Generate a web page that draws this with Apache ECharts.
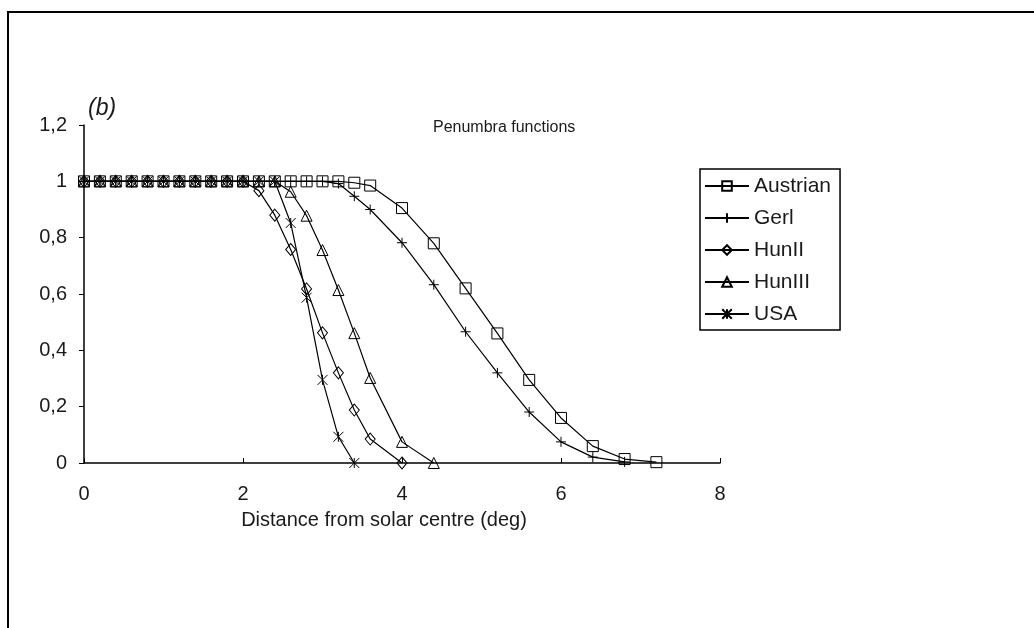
<!DOCTYPE html>
<html>
<head>
<meta charset="utf-8">
<script src="https://cdn.jsdelivr.net/npm/echarts@6/dist/echarts.min.js"></script>
<style>
  html, body { margin: 0; padding: 0; background: #fff; }
  #chart { width: 1034px; height: 628px; }
</style>
</head>
<body>
<div id="chart"></div>
<script>
// x positions (deg) shared by all curves
const distances = [0, 0.2, 0.4, 0.6, 0.8, 1.0, 1.2, 1.4, 1.6, 1.8, 2.0, 2.2, 2.4, 2.6, 2.8, 3.0, 3.2, 3.4, 3.6,
    4.0, 4.4, 4.8, 5.2, 5.6, 6.0, 6.4, 6.8, 7.2];

// penumbra values
const austrian = [1, 1, 1, 1, 1, 1, 1, 1, 1, 1, 1, 1, 1, 1, 1, 1, 1, 0.995, 0.985,
    0.905, 0.78, 0.62, 0.46, 0.295, 0.16, 0.06, 0.014, 0.003];
const gerl = [1, 1, 1, 1, 1, 1, 1, 1, 1, 1, 1, 1, 1, 1, 1, 1, 0.992, 0.947, 0.9,
    0.782, 0.633, 0.466, 0.32, 0.181, 0.075, 0.021, 0.004];
const hunII = [1, 1, 1, 1, 1, 1, 1, 1, 1, 1, 1, 0.967, 0.88, 0.758, 0.618, 0.462, 0.32, 0.188, 0.085,
    0];
const hunIII = [1, 1, 1, 1, 1, 1, 1, 1, 1, 1, 1, 1, 1, 0.963, 0.878, 0.756, 0.614, 0.461, 0.302,
    0.075, 0];
const usa = [1, 1, 1, 1, 1, 1, 1, 1, 1, 1, 1, 1, 1, 0.852, 0.587, 0.295, 0.093, 0];

const seriesNames = ['Austrian', 'Gerl', 'HunII', 'HunIII', 'USA'];
const xTicks = { min: 0, max: 8, interval: 2 };
const yTicks = { min: 0, max: 1.2, interval: 0.2 };

const FONT = "'Liberation Sans', Arial, sans-serif";
const INK = '#1a1a1a';

// marker shapes, Excel style
const symbols = {
    Austrian: { symbol: 'rect', size: 11 },
    Gerl: { symbol: 'path://M5,0L5,10M0,5L10,5', size: 10 },
    HunII: { symbol: 'diamond', size: [10, 12] },
    HunIII: { symbol: 'triangle', size: 11 },
    USA: { symbol: 'path://M0,0L10,10M10,0L0,10M5,0L5,10', size: 10 }
};

function pairUp(values) {
    return values.map((v, i) => [distances[i], v]);
}

function makeSeries(name, values) {
    return {
        name: name,
        type: 'line',
        data: pairUp(values),
        symbol: symbols[name].symbol,
        symbolSize: symbols[name].size,
        showAllSymbol: true,
        lineStyle: { color: '#000', width: 1.2 },
        itemStyle: { color: 'rgba(0,0,0,0)', borderColor: '#000', borderWidth: 1 },
        emphasis: { disabled: true }
    };
}

const chart = echarts.init(document.getElementById('chart'), null, { renderer: 'canvas' });

const option = {
    animation: false,
    backgroundColor: '#fff',
    textStyle: { fontFamily: FONT, color: INK },
    title: [
        {
            text: 'Penumbra functions',
            left: 433,
            top: 120,
            padding: 0,
            textStyle: { fontFamily: FONT, fontSize: 16, fontWeight: 'normal', color: INK }
        },
        {
            text: '(b)',
            left: 88,
            top: 97,
            padding: 0,
            textStyle: { fontFamily: FONT, fontSize: 23, fontStyle: 'italic', fontWeight: 'normal', color: INK }
        }
    ],
    graphic: [
        {
            type: 'rect',
            shape: { x: 8, y: 12, width: 1100, height: 700 },
            style: { fill: 'none', stroke: '#000', lineWidth: 2 },
            silent: true
        }
    ],
    legend: {
        orient: 'vertical',
        left: 700,
        top: 169,
        padding: [5, 9, 4, 4],
        itemGap: 8,
        itemWidth: 44,
        itemHeight: 12,
        borderColor: '#000',
        borderWidth: 1.5,
        data: seriesNames,
        textStyle: { fontFamily: FONT, fontSize: 21, color: INK, lineHeight: 24 }
    },
    grid: { left: 84, right: 314, top: 125, bottom: 165, containLabel: false },
    xAxis: {
        type: 'value',
        min: xTicks.min,
        max: xTicks.max,
        interval: xTicks.interval,
        name: 'Distance from solar centre (deg)',
        nameLocation: 'middle',
        nameGap: 47,
        nameTextStyle: { fontFamily: FONT, fontSize: 20, color: INK, padding: [0, 36, 0, 0] },
        axisLine: { lineStyle: { color: '#000', width: 1.5 } },
        axisTick: { inside: true, length: 5, lineStyle: { color: '#000' } },
        axisLabel: { margin: 21, fontFamily: FONT, fontSize: 20, color: INK },
        splitLine: { show: false }
    },
    yAxis: {
        type: 'value',
        min: yTicks.min,
        max: yTicks.max,
        interval: yTicks.interval,
        axisLine: { show: true, lineStyle: { color: '#000', width: 1.5 } },
        axisTick: { show: true, length: 5, lineStyle: { color: '#000' } },
        axisLabel: {
            margin: 17,
            fontFamily: FONT,
            fontSize: 20,
            color: INK,
            formatter: v => String(Math.round(v * 10) / 10).replace('.', ',')
        },
        splitLine: { show: false }
    },
    series: [
        makeSeries('Austrian', austrian),
        makeSeries('Gerl', gerl),
        makeSeries('HunII', hunII),
        makeSeries('HunIII', hunIII),
        makeSeries('USA', usa)
    ]
};

chart.setOption(option);
</script>
</body>
</html>
